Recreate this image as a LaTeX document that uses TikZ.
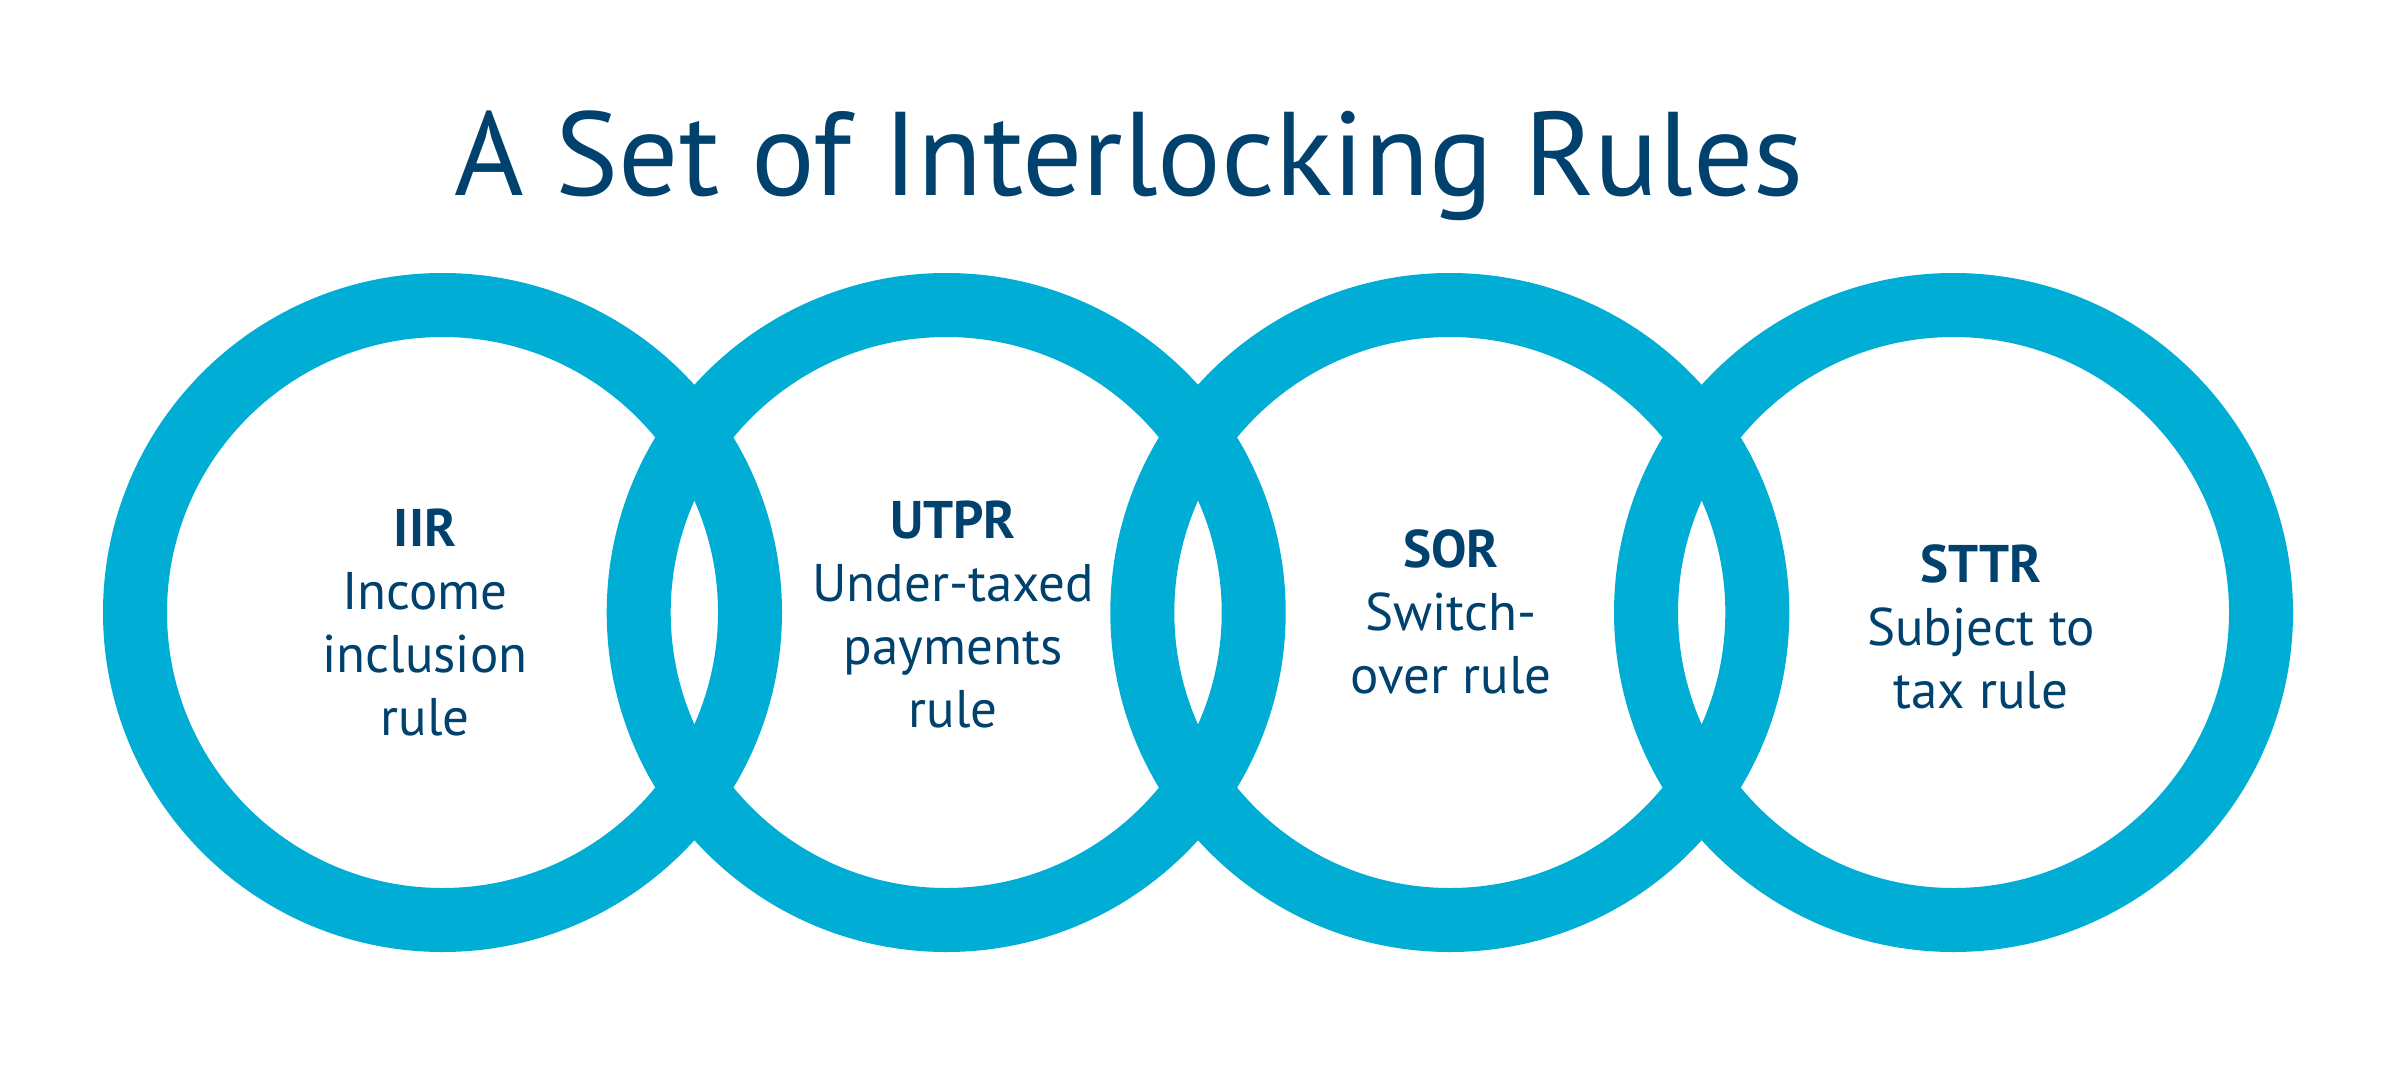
\documentclass[tikz,border=0pt]{standalone}
\usepackage{fontspec}
\setmainfont{PT Sans}
\definecolor{ringblue}{HTML}{00ADD5}
\definecolor{textblue}{HTML}{00416D}
\begin{document}
\begin{tikzpicture}[x=1pt,y=-1pt,
  ring/.style={circle, draw=ringblue, line width=64pt, minimum size=615pt, inner sep=0pt, outer sep=0pt},
  ruletext/.style={text=textblue, align=center, anchor=base, inner sep=0pt, font=\fontsize{53}{63}\selectfont},
  titletext/.style={text=textblue, anchor=base, inner sep=0pt, font=\fontsize{119}{140}\selectfont}]
\useasboundingbox (0,0) rectangle (2400,1065);
\node[ring] (r1) at (442.5,612.5) {};
\node[ring] (r2) at (946.2,612.5) {};
\node[ring] (r3) at (1449.8,612.5) {};
\node[ring] (r4) at (1953.5,612.5) {};
\node[titletext] (title) at (1129,195) {A Set of Interlocking Rules};
\node[ruletext] (t1) at (425,735) {{\bfseries IIR}\\Income\\inclusion\\rule};
\node[ruletext] (t2) at (953,727) {{\bfseries UTPR}\\Under-taxed\\payments\\rule};
\node[ruletext] (t3) at (1451,693) {{\bfseries SOR}\\Switch-\\over rule};
\node[ruletext] (t4) at (1981,708) {{\bfseries STTR}\\Subject to\\tax rule};
\end{tikzpicture}
\end{document}
